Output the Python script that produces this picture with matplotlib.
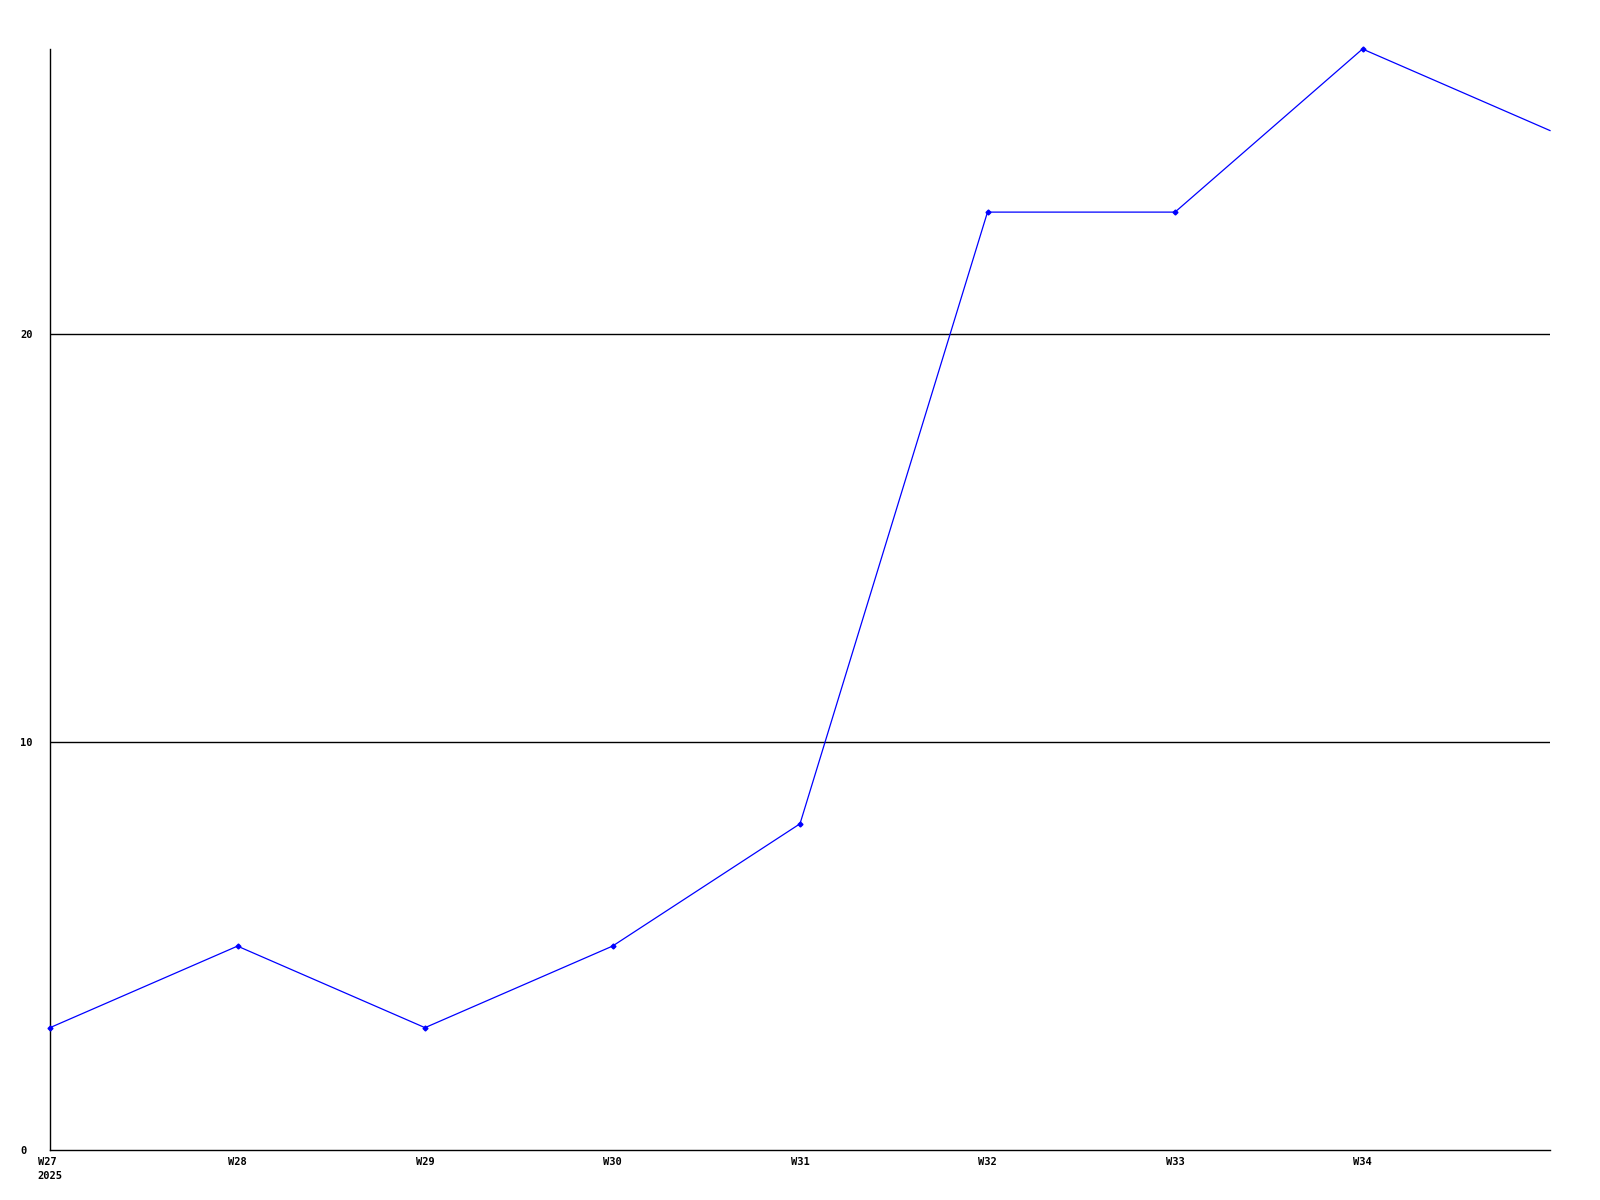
import matplotlib
matplotlib.use("Agg")
import matplotlib.pyplot as plt

weeks = ["W27", "W28", "W29", "W30", "W31", "W32", "W33", "W34", "W35"]
values = [3, 5, 3, 5, 8, 23, 23, 27, 25]
tick_labels = ["W27\n2025", "W28", "W29", "W30", "W31", "W32", "W33", "W34"]
y_ticks = [0, 10, 20]

W, H = 1600, 1200
fig = plt.figure(figsize=(16, 12), dpi=100)
left, right, top, bottom = 50, 1550, 49, 1150
ax = fig.add_axes([left / W, 1 - bottom / H, (right - left) / W, (bottom - top) / H])

x = list(range(len(weeks)))
ax.plot(x, values, color="#0000ff", linewidth=0.9, marker="D", markersize=2.5,
        markevery=list(range(len(weeks) - 1)), zorder=3, clip_on=False)
ax.set_xlim(0, len(weeks) - 1)
ax.set_ylim(0, 27)

for yv in [10, 20]:
    ax.axhline(yv, color="black", linewidth=1, zorder=1)

ax.set_xticks(x[:len(tick_labels)])
ax.set_xticklabels(tick_labels, fontfamily="DejaVu Sans Mono", fontweight="bold", fontsize=7.5,
                   linespacing=1.5, va="top", multialignment="left")
ax.set_yticks(y_ticks)
ax.set_yticklabels([str(v) for v in y_ticks], fontfamily="DejaVu Sans Mono", fontweight="bold",
                   fontsize=7.5, ha="left")
ax.tick_params(axis="x", length=0, pad=5)
ax.tick_params(axis="y", length=0, pad=21.6)

for s in ["top", "right"]:
    ax.spines[s].set_visible(False)
for s in ["left", "bottom"]:
    ax.spines[s].set_color("black")
    ax.spines[s].set_linewidth(1)

fig.savefig("out.png", dpi=100, facecolor="white")
